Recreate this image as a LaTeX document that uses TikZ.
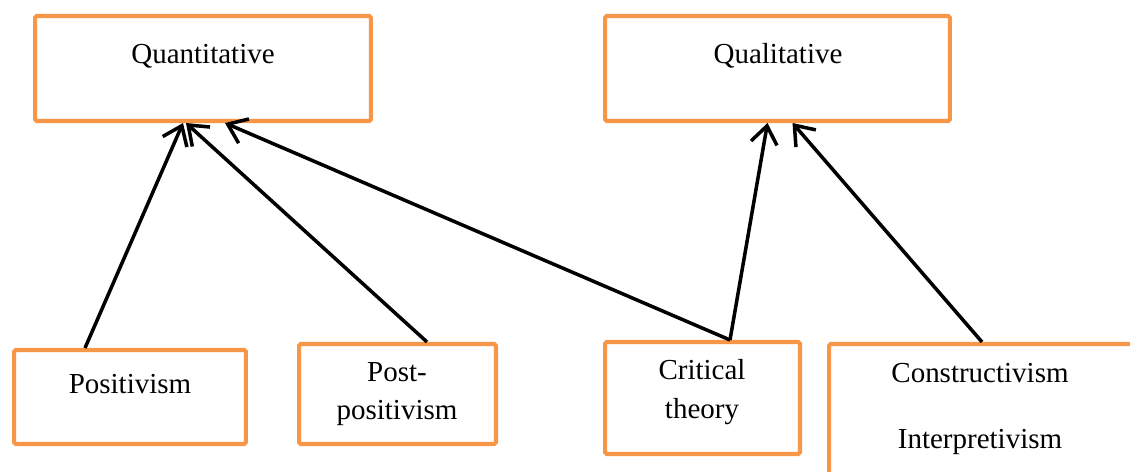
\documentclass[tikz,border=0pt]{standalone}
\usepackage{fontspec}
\setmainfont{Liberation Serif}
\usepackage{tikz}
\usetikzlibrary{arrows.meta,positioning,calc}
\definecolor{boxorange}{HTML}{F79646}

\tikzset{
    paradigm/.style={draw=boxorange, line width=2.3pt, fill=white, rounded corners=1pt, inner sep=0pt},
    word/.style={font=\fontsize{16.5}{22}\selectfont, align=center, inner sep=0pt},
    link/.style={line width=2pt, -{Straight Barb[length=10pt,width=15pt,line width=2pt]}}
}

\begin{document}
\begin{tikzpicture}[x=0.02cm, y=-0.02cm]
    \clip (0,0) rectangle (1130,472);
    \useasboundingbox (0,0) rectangle (1130,472);

    % Method boxes
    \node[paradigm, minimum width=6.72cm, minimum height=2.1cm] (quant) at (203,68.5) {};
    \node[paradigm, minimum width=6.9cm, minimum height=2.1cm] (qual) at (777.5,68.5) {};
    \node[word] (quantlbl) at (203,56) {Quantitative};
    \node[word] (quallbl) at (778,56) {Qualitative};

    % Paradigm boxes
    \node[paradigm, minimum width=4.64cm, minimum height=1.88cm] (posit) at (130,397) {};
    \node[paradigm, minimum width=3.94cm, minimum height=2.0cm] (post) at (397.5,394) {};
    \node[paradigm, minimum width=3.9cm, minimum height=2.24cm] (crit) at (702.5,398) {};
    \node[paradigm, minimum width=6.22cm, minimum height=2.72cm] (constr) at (984.5,412) {};

    \node[word] (positlbl) at (130,384) {Positivism};
    \node[word] (postlbl) at (397,394) {Post-\\positivism};
    \node[word] (critlbl) at (702,392) {Critical\\theory};
    \node[word] (constrlbl) at (980,409) {Constructivism\\[16pt]Interpretivism};

    % Arrows
    \draw[link] ($(posit.north)+(-45,0)$) -- ($(quant.south)+(-20,0)$);
    \draw[link] ($(post.north)+(29.5,0)$) -- ($(quant.south)+(-17,0)$);
    \draw[link] ($(crit.north)+(27.5,0)$) -- ($(quant.south)+(22,0)$);
    \draw[link] ($(crit.north)+(27.5,0)$) -- ($(qual.south)+(-10,0)$);
    \draw[link] ($(constr.north)+(-2.5,0)$) -- ($(qual.south)+(15,0)$);
\end{tikzpicture}
\end{document}
